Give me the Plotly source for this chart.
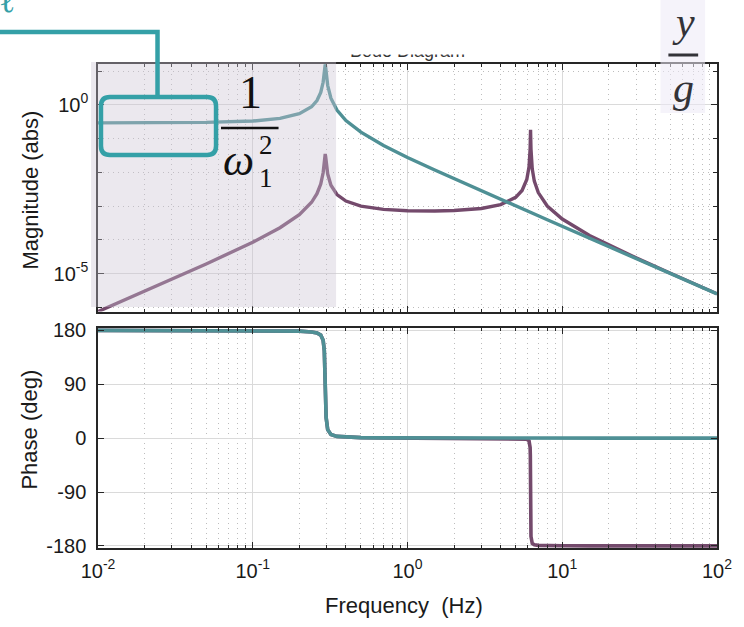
import plotly.graph_objects as go

# ---------------- data ----------------
freq_hz = [0.01, 0.02, 0.05, 0.1, 0.15, 0.2, 0.24, 0.26, 0.275, 0.285,
           0.29, 0.292, 0.294, 0.296, 0.298, 0.305, 0.32, 0.35, 0.4, 0.5,
           0.7, 1, 1.5, 2, 3, 4, 5, 5.5, 5.9, 6.1,
           6.2, 6.22, 6.24, 6.26, 6.28, 6.4, 6.6, 7, 8, 10,
           15, 20, 30, 50, 100]

mag_teal = [0.2935, 0.2945, 0.3019, 0.3315, 0.3964, 0.5457, 0.8786, 1.344, 2.328, 4.66,
            8.99, 12.83, 15.84, 12.69, 8.83, 3.73, 1.577, 0.7014, 0.3442, 0.1549,
            0.06276, 0.02773, 0.01171, 0.006472, 0.002842, 0.001592, 0.001017, 0.00084, 0.00073, 0.000682,
            0.00066, 0.000656, 0.000652, 0.000648, 0.000644, 0.00062, 0.000583, 0.000518, 0.000396, 0.0002535,
            0.0001126, 6.33e-5, 2.815e-5, 1.013e-5, 2.533e-6]

mag_purple = [7.54e-7, 3.03e-6, 1.94e-5, 8.52e-5, 2.29e-4, 5.61e-4, 1.30e-3, 2.34e-3, 4.53e-3, 9.74e-3,
              0.01945, 0.02815, 0.03524, 0.02862, 0.02018, 8.93e-3, 4.16e-3, 2.21e-3, 1.42e-3, 1.00e-3,
              8.0e-4, 7.31e-4, 7.18e-4, 7.41e-4, 8.54e-4, 1.11e-3, 1.82e-3, 2.92e-3, 6.15e-3, 0.01463,
              0.04891, 0.0882, 0.1811, 0.0892, 0.049, 0.01253, 5.49e-3, 2.52e-3, 1.01e-3, 4.15e-4,
              1.36e-4, 7.02e-5, 2.94e-5, 1.029e-5, 2.543e-6]

phase_teal = [180, 180, 179.8, 179.6, 179.3, 178.7, 177.4, 175.7, 172.1, 163.4,
              146.0, 126.4, 90, 53.8, 34.4, 14.1, 6.2, 3.0, 1.7, 0.95,
              0.54, 0.34, 0.22, 0.16, 0.1, 0.08, 0.06, 0.05, 0.05, 0.05,
              0.05, 0.05, 0.05, 0.05, 0.05, 0.05, 0.05, 0.04, 0.03, 0.03,
              0.02, 0.01, 0.01, 0, 0]

phase_purple = [180, 180, 179.8, 179.6, 179.3, 178.7, 177.4, 175.7, 172.1, 163.4,
                146.0, 126.4, 90, 53.8, 34.4, 14.1, 6.2, 3.0, 1.7, 0.95,
                0.54, 0.31, 0.17, 0.09, -0.03, -0.14, -0.4, -0.76, -1.8, -4.5,
                -15.5, -29.0, -89.0, -150.4, -164.2, -175.9, -178.2, -179.1, -179.6, -179.8,
                -179.9, -179.9, -180, -180, -180]

x_major = [0.01, 0.1, 1, 10, 100]
x_major_text = ["10<sup>-2</sup>", "10<sup>-1</sup>", "10<sup>0</sup>", "10<sup>1</sup>", "10<sup>2</sup>"]
mag_major = [1e-5, 1]
mag_major_text = ["10<sup>-5</sup>", "10<sup>0</sup>"]
mag_minor = [1e-6, 1e-4, 1e-3, 1e-2, 1e-1, 10]
phase_ticks = [-180, -90, 0, 90, 180]
phase_text = ["-180", "-90", "0", "90", "180"]

TEAL = "#4f9095"
PURPLE = "#744a6c"
ACCENT = "#34a0a7"

# ---------------- geometry helpers (pixel -> paper) ----------------
W, H = 744, 627
L, R, T, B = 98, 22, 64, 79
PW, PH = W - L - R, H - T - B


def px(x):
    return (x - L) / PW


def py(y):
    return 1 - (y - T) / PH


x_minor = [k * 10 ** e for e in range(-2, 2) for k in range(2, 10)]

fig = go.Figure()
fig.add_trace(go.Scatter(x=freq_hz, y=mag_purple, mode="lines",
                         line=dict(color=PURPLE, width=3.4), xaxis="x", yaxis="y"))
fig.add_trace(go.Scatter(x=freq_hz, y=mag_teal, mode="lines",
                         line=dict(color=TEAL, width=3.4), xaxis="x", yaxis="y"))
fig.add_trace(go.Scatter(x=freq_hz, y=phase_purple, mode="lines",
                         line=dict(color=PURPLE, width=3.6), xaxis="x2", yaxis="y2"))
fig.add_trace(go.Scatter(x=freq_hz, y=phase_teal, mode="lines",
                         line=dict(color=TEAL, width=3.6), xaxis="x2", yaxis="y2"))

GRID = "#dadada"
MINOR_GRID = "#bdbdbd"
LINE = "#262626"
SANS = "Liberation Sans, Arial, sans-serif"
SERIF = "Liberation Serif, Times New Roman, serif"
tickfont = dict(family=SANS, size=20, color="#1a1a1a")

common_x = dict(type="log", range=[-2, 2], tickvals=x_major, ticktext=x_major_text,
                ticks="inside", ticklen=6, tickcolor=LINE, showline=True, linecolor=LINE,
                linewidth=1.5, mirror="allticks", showgrid=True, gridcolor=GRID, gridwidth=1,
                zeroline=False, tickfont=tickfont,
                minor=dict(tickvals=x_minor, ticks="inside", ticklen=3, tickcolor=LINE,
                           showgrid=True, gridcolor=MINOR_GRID, griddash="1px,4px", gridwidth=1))

fig.update_layout(
    width=W, height=H, margin=dict(l=L, r=R, t=T, b=B),
    paper_bgcolor="white", plot_bgcolor="white", showlegend=False,
    xaxis=dict(common_x, domain=[0, 1], anchor="y", showticklabels=False),
    xaxis2=dict(common_x, domain=[0, 1], anchor="y2", showticklabels=True, ticklabelstandoff=4),
    yaxis=dict(type="log", range=[-6.12, 1.21], domain=[py(311.5), 1], anchor="x",
               tickvals=mag_major, ticktext=mag_major_text,
               ticks="inside", ticklen=6, tickcolor=LINE, showline=True, linecolor=LINE,
               linewidth=1.5, mirror="allticks", showgrid=True, gridcolor=GRID,
               zeroline=False, tickfont=tickfont, ticklabelstandoff=4,
               minor=dict(tickvals=mag_minor, ticks="inside", ticklen=4, tickcolor=LINE,
                          showgrid=True, gridcolor=MINOR_GRID, griddash="1px,4px", gridwidth=1)),
    yaxis2=dict(range=[-183.5, 184], domain=[0, py(328)], anchor="x2",
                tickvals=phase_ticks, ticktext=phase_text,
                ticks="inside", ticklen=6, tickcolor=LINE, showline=True, linecolor=LINE,
                linewidth=1.5, mirror="allticks", showgrid=True, gridcolor=GRID,
                zeroline=False, tickfont=tickfont, ticklabelstandoff=6),
)

# ---------------- overlay decorations ----------------
shapes = []
# lavender highlight over low-frequency band
shapes.append(dict(type="rect", xref="paper", yref="paper",
                   x0=px(91), x1=px(338), y0=py(307), y1=py(62),
                   fillcolor="rgba(203,195,211,0.38)", line=dict(width=0), layer="above"))
# light box behind y/g
shapes.append(dict(type="rect", xref="paper", yref="paper",
                   x0=px(665), x1=px(710), y0=py(113), y1=py(0),
                   fillcolor="rgba(236,233,245,0.55)", line=dict(width=0), layer="above"))
# connector line
shapes.append(dict(type="path", xref="paper", yref="paper",
                   path=f"M {px(-5)},{py(32)} L {px(158)},{py(32)} L {px(158)},{py(97)}",
                   line=dict(color=ACCENT, width=4.5), layer="above"))


def rounded_rect(x0, y0, x1, y1, r):
    p = [f"M {px(x0 + r)},{py(y0)}",
         f"L {px(x1 - r)},{py(y0)}",
         f"Q {px(x1)},{py(y0)} {px(x1)},{py(y0 + r)}",
         f"L {px(x1)},{py(y1 - r)}",
         f"Q {px(x1)},{py(y1)} {px(x1 - r)},{py(y1)}",
         f"L {px(x0 + r)},{py(y1)}",
         f"Q {px(x0)},{py(y1)} {px(x0)},{py(y1 - r)}",
         f"L {px(x0)},{py(y0 + r)}",
         f"Q {px(x0)},{py(y0)} {px(x0 + r)},{py(y0)} Z"]
    return " ".join(p)


shapes.append(dict(type="path", xref="paper", yref="paper",
                   path=rounded_rect(101, 97, 217, 155, 9),
                   line=dict(color=ACCENT, width=4.5), layer="above"))
# fraction bars
shapes.append(dict(type="line", xref="paper", yref="paper",
                   x0=px(222), x1=px(280), y0=py(128), y1=py(128),
                   line=dict(color="#111111", width=2.5), layer="above"))
shapes.append(dict(type="line", xref="paper", yref="paper",
                   x0=px(673), x1=px(703), y0=py(55), y1=py(55),
                   line=dict(color="#333338", width=3), layer="above"))
fig.update_layout(shapes=shapes)


def ann(text, x, y, size, family=SANS, color="#1a1a1a", angle=0, **kw):
    d = dict(text=text, x=px(x), y=py(y), xref="paper", yref="paper",
             xanchor="center", yanchor="middle", showarrow=False, textangle=angle,
             font=dict(family=family, size=size, color=color))
    d.update(kw)
    return d


annotations = [
    ann("Bode Diagram", 410, 51, 18, color="#333333"),
    # white cover hiding the upper part of the title (as in the reference)
    dict(text=" ", x=px(410), y=py(0), xref="paper", yref="paper", xanchor="center",
         yanchor="top", showarrow=False, width=200, height=53, bgcolor="white", borderpad=0,
         font=dict(family=SANS, size=10)),
    ann("Magnitude (abs)", 29, 190, 22, angle=-90),
    ann("Phase (deg)", 28, 430, 22, angle=-90),
    ann("Frequency\u00a0 (Hz)", 406, 605, 22),
    ann("1", 252, 93, 46, family=SERIF, color="#111111"),
    ann("<i>ω</i>", 240, 160, 44, family=SERIF, color="#111111"),
    ann("2", 267, 145, 27, family=SERIF, color="#111111"),
    ann("1", 267, 178, 27, family=SERIF, color="#111111"),
    ann("<i>y</i>", 688, 22, 42, family=SERIF, color="#333338"),
    ann("<i>g</i>", 688, 88, 42, family=SERIF, color="#333338"),
    ann("ℓ", 6, 0, 34, family=SERIF, color=ACCENT),
]
fig.update_layout(annotations=annotations)

fig.write_html("out.html", config={"displayModeBar": False},
               post_script="document.body.style.margin='0px';")
